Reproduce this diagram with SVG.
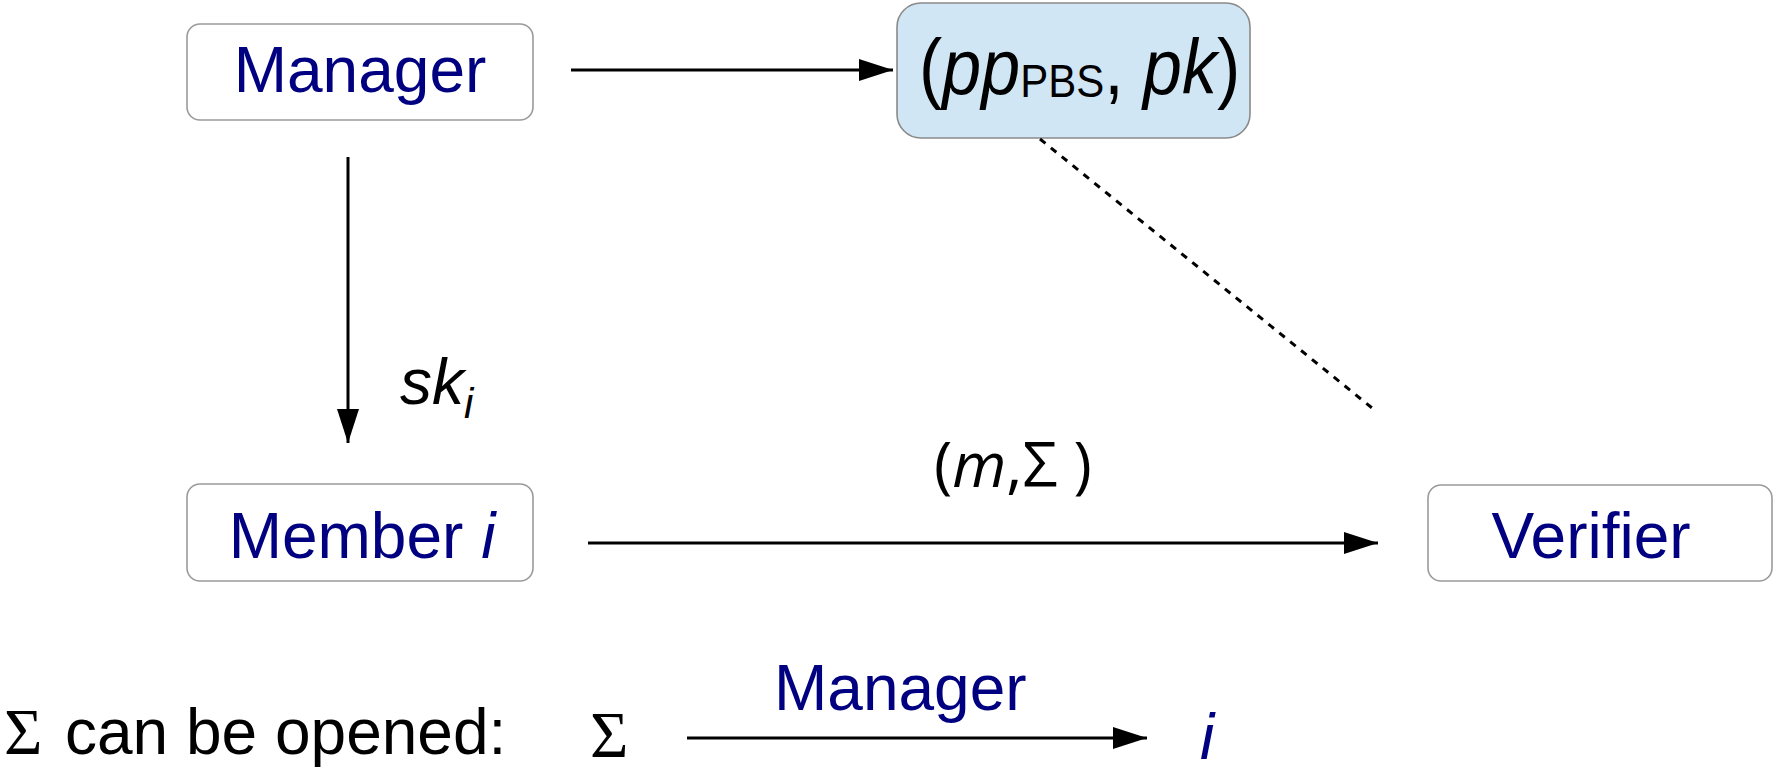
<svg xmlns="http://www.w3.org/2000/svg" width="1773" height="770" viewBox="0 0 1773 770">
<defs>
<style>
.box{fill:#ffffff;stroke:#9a9a9a;stroke-width:1.6}
.pbs{fill:#d0e6f4;stroke:#8a8a8a;stroke-width:1.6}
.lbl{font-family:"Liberation Sans",Arial,sans-serif;font-size:64px;fill:#000080}
.blk{font-family:"Liberation Sans",Arial,sans-serif;fill:#000000}
.edge{stroke:#000;stroke-width:3;fill:none}
.sig{font-family:"Liberation Serif","Times New Roman",serif;font-size:66px;fill:#000}
</style>
<marker id="ah" markerUnits="userSpaceOnUse" markerWidth="34" markerHeight="22" refX="34" refY="11" orient="auto">
<path d="M0,0 L34,11 L0,22 Z" fill="#000"/>
</marker>
</defs>
<rect width="1773" height="770" fill="#ffffff"/>
<g id="manager">
<rect class="box" x="187" y="24" width="346" height="96" rx="13"/>
<text class="lbl" x="360" y="92" text-anchor="middle">Manager</text>
</g>
<g id="pbs">
<rect class="pbs" x="897" y="3" width="353" height="135" rx="24"/>
<text class="blk" x="919" y="94" font-size="70" transform="translate(0,94) scale(1,1.12) translate(0,-94)"><tspan>(</tspan><tspan font-style="italic">pp</tspan><tspan font-size="42" dy="3">PBS</tspan><tspan dy="-3">, </tspan><tspan font-style="italic">pk</tspan><tspan>)</tspan></text>
</g>
<g id="member">
<rect class="box" x="187" y="484" width="346" height="97" rx="13"/>
<text class="lbl" x="362" y="558" text-anchor="middle">Member <tspan font-style="italic">i</tspan></text>
</g>
<g id="verifier">
<rect class="box" x="1428" y="485" width="344" height="96" rx="13"/>
<text class="lbl" x="1591" y="558" text-anchor="middle">Verifier</text>
</g>
<g id="connectors">
<line class="edge" x1="571" y1="70" x2="893" y2="70" marker-end="url(#ah)"/>
<line class="edge" x1="348" y1="157" x2="348" y2="443" marker-end="url(#ah)"/>
<line class="edge" x1="588" y1="543" x2="1378" y2="543" marker-end="url(#ah)"/>
<line class="edge" x1="1040" y1="139" x2="1377" y2="412" stroke-dasharray="7 7"/>
<line class="edge" x1="687" y1="738" x2="1147" y2="738" marker-end="url(#ah)"/>
</g>
<g id="labels">
<text class="blk" x="400" y="404" font-size="64" font-style="italic">sk<tspan font-size="42" dy="14">i</tspan></text>
<text x="934" y="487" font-family="'Open Sans','DejaVu Sans',sans-serif" font-size="62" fill="#000">(<tspan font-style="italic">m</tspan>,Σ )</text>
<text class="sig" x="4" y="754">Σ</text>
<text class="blk" x="65" y="754" font-size="64">can be opened:</text>
<text class="sig" x="590" y="757">Σ</text>
<text class="lbl" x="774" y="710">Manager</text>
<text class="lbl" x="1200" y="759" font-style="italic">i</text>
</g>
</svg>
